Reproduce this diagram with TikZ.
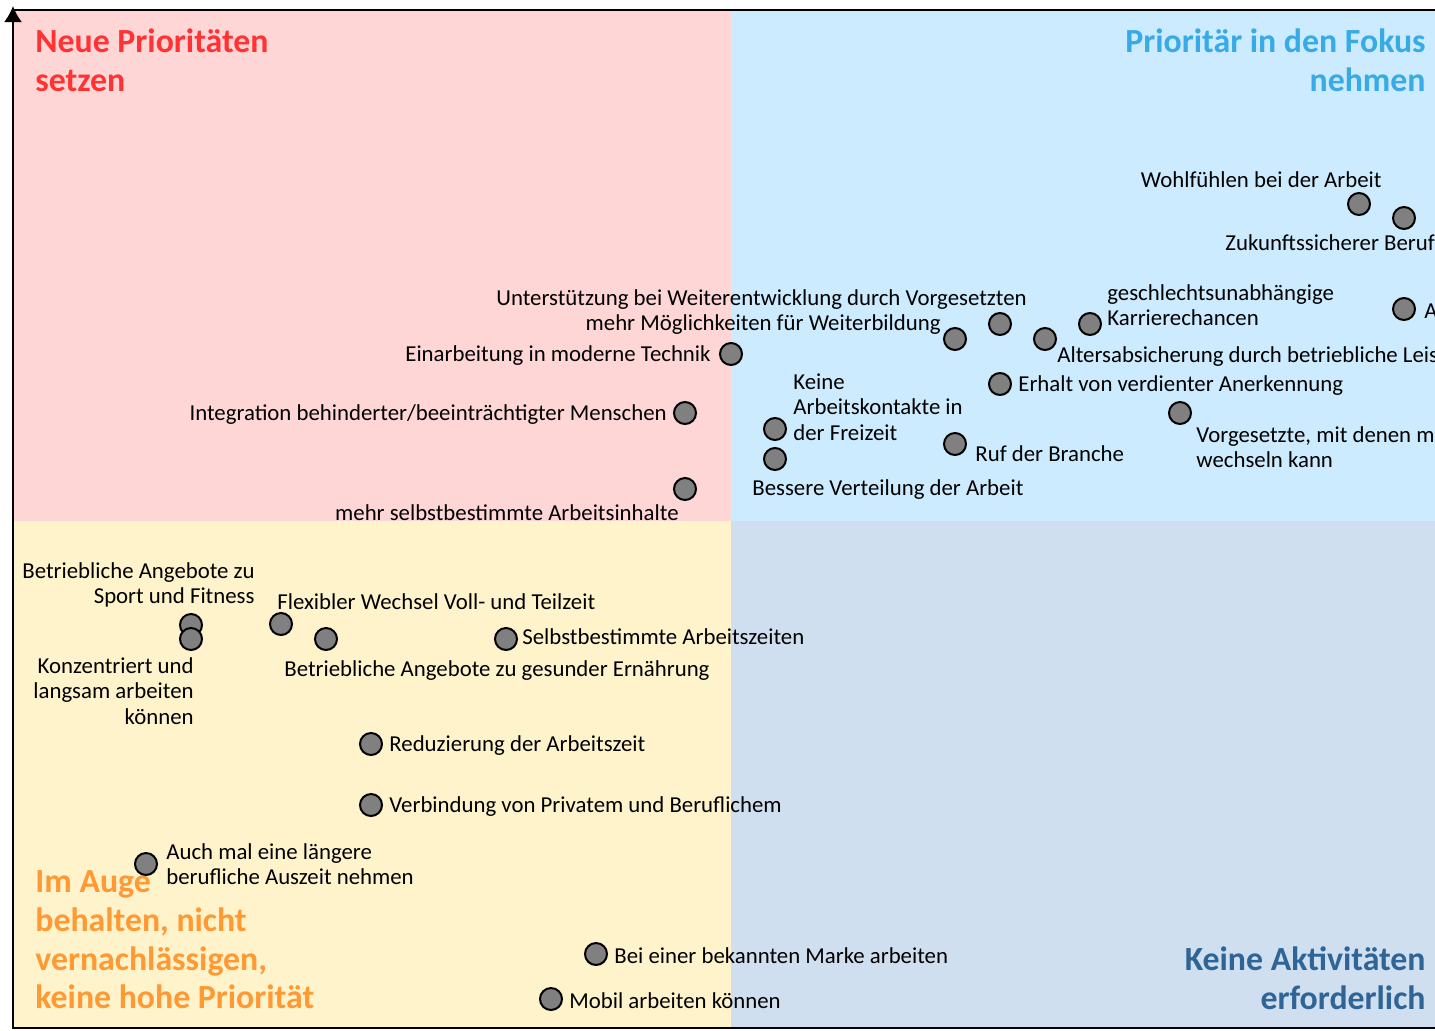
\documentclass[tikz,border=0pt]{standalone}
\usepackage{fontspec}
\setmainfont{Carlito}
\usetikzlibrary{positioning, arrows.meta}

\definecolor{pinkbg}{RGB}{255,214,214}
\definecolor{bluebg}{RGB}{204,235,255}
\definecolor{yellowbg}{RGB}{255,243,204}
\definecolor{graybg}{RGB}{208,223,240}
\definecolor{redtxt}{RGB}{255,51,51}
\definecolor{bluetxt}{RGB}{56,170,230}
\definecolor{orangetxt}{RGB}{255,153,51}
\definecolor{darkbluetxt}{RGB}{46,100,150}
\definecolor{dotgray}{RGB}{128,128,128}

\tikzset{
  dot/.style={circle, draw=black, fill=dotgray, line width=1pt, minimum size=11pt, inner sep=0pt},
  lbl/.style={inner sep=0pt, yshift=-1pt, font=\fontsize{11.4}{12.75}\selectfont},
  ttl/.style={inner sep=0pt, font=\bfseries\fontsize{16.9}{19.3}\selectfont}
}

\begin{document}
\begin{tikzpicture}[x=0.5pt, y=-0.5pt, node distance=3pt]
   \clip (0,0) rectangle (1435,1030);
   \useasboundingbox (0,0) rectangle (1435,1030);

   % Quadrants
   \fill[pinkbg] (13,10) rectangle (731,521);
   \fill[bluebg] (731,10) rectangle (1435,521);
   \fill[yellowbg] (13,521) rectangle (731,1028);
   \fill[graybg] (731,521) rectangle (1435,1028);

   % Frame and axis
   \draw[line width=0.8pt] (13,10) -- (1435,10);
   \draw[line width=1pt] (13,1028) -- (1435,1028);
   \draw[line width=1pt, -{Latex[length=8pt, width=9pt]}] (13,1029) -- (13,6);

   % Quadrant titles
   \node[ttl, text=redtxt, align=left, anchor=west] (tneu) at (35,60) {Neue Prioritäten\\setzen};
   \node[ttl, text=bluetxt, align=right, anchor=east] (tfokus) at (1426,60) {Prioritär in den Fokus\\nehmen};
   \node[ttl, text=orangetxt, align=left, anchor=west] (tauge) at (35,940) {Im Auge\\behalten, nicht\\vernachlässigen,\\keine hohe Priorität};
   \node[ttl, text=darkbluetxt, align=right, anchor=east] (tkeine) at (1426,978) {Keine Aktivitäten\\erforderlich};

   % Upper right
   \node[dot] (wohl) at (1359,204) {};
   \node[dot] (zukunft) at (1404,218) {};
   \node[dot] (arest) at (1404,309) {};
   \node[dot] (karriere) at (1090,324) {};
   \node[dot] (alter) at (1045,339) {};
   \node[dot] (unterst) at (1000,324) {};
   \node[dot] (weiterb) at (955,339) {};
   \node[dot] (erhalt) at (1000,384) {};
   \node[dot] (vorges) at (1180,413) {};
   \node[dot] (ruf) at (955,444) {};
   \node[dot] (kontakte) at (775,429) {};
   \node[dot] (verteil) at (775,459) {};

   \node[lbl, anchor=east] at (1382,178) {Wohlfühlen bei der Arbeit};
   \node[lbl, anchor=west] at (1225,241) {Zukunftssicherer Beruf};
   \node[lbl, right=4pt of arest] {A};
   \node[lbl, align=left, anchor=west] at (1107,303) {geschlechtsunabhängige\\Karrierechancen};
   \node[lbl, anchor=west] at (1057,355) {Altersabsicherung durch betriebliche Leis};
   \node[lbl, anchor=east] at (1027,298) {Unterstützung bei Weiterentwicklung durch Vorgesetzten};
   \node[lbl, anchor=east] at (941,323) {mehr Möglichkeiten für Weiterbildung};
   \node[lbl, right=of erhalt] {Erhalt von verdienter Anerkennung};
   \node[lbl, align=left, anchor=west] at (1196,445) {Vorgesetzte, mit denen m\\wechseln kann};
   \node[lbl, anchor=west] at (975,452) {Ruf der Branche};
   \node[lbl, align=left, anchor=west] at (793,405) {Keine\\Arbeitskontakte in\\der Freizeit};
   \node[lbl, anchor=west] at (752,488) {Bessere Verteilung der Arbeit};

   % Upper left
   \node[dot] (technik) at (731,354) {};
   \node[dot] (integr) at (685,413) {};
   \node[dot] (inhalte) at (685,489) {};

   \node[lbl, left=4pt of technik] {Einarbeitung in moderne Technik};
   \node[lbl, left=of integr] {Integration behinderter/beeinträchtigter Menschen};
   \node[lbl, anchor=east] at (679,511) {mehr selbstbestimmte Arbeitsinhalte};

   % Lower left
   \node[dot] (sport) at (191,625) {};
   \node[dot] (konzent) at (191,639) {};
   \node[dot] (flex) at (281,624) {};
   \node[dot] (ernaehr) at (326,639) {};
   \node[dot] (azeiten) at (506,639) {};
   \node[dot] (reduz) at (371,744) {};
   \node[dot] (privat) at (371,805) {};
   \node[dot] (auszeit) at (146,864) {};
   \node[dot] (marke) at (596,954) {};
   \node[dot] (mobil) at (551,999) {};

   \node[lbl, align=right, anchor=east] at (255,583) {Betriebliche Angebote zu\\Sport und Fitness};
   \node[lbl, align=right, anchor=east] at (194,689) {Konzentriert und\\langsam arbeiten\\können};
   \node[lbl, anchor=west] at (277,600) {Flexibler Wechsel Voll- und Teilzeit};
   \node[lbl, anchor=west] at (284,669) {Betriebliche Angebote zu gesunder Ernährung};
   \node[lbl, anchor=west] at (522,635) {Selbstbestimmte Arbeitszeiten};
   \node[lbl, right=of reduz] {Reduzierung der Arbeitszeit};
   \node[lbl, right=of privat] {Verbindung von Privatem und Beruflichem};
   \node[lbl, align=left, anchor=west] at (166,862) {Auch mal eine längere\\berufliche Auszeit nehmen};
   \node[lbl, right=of marke] {Bei einer bekannten Marke arbeiten};
   \node[lbl, right=of mobil] {Mobil arbeiten können};
\end{tikzpicture}
\end{document}
